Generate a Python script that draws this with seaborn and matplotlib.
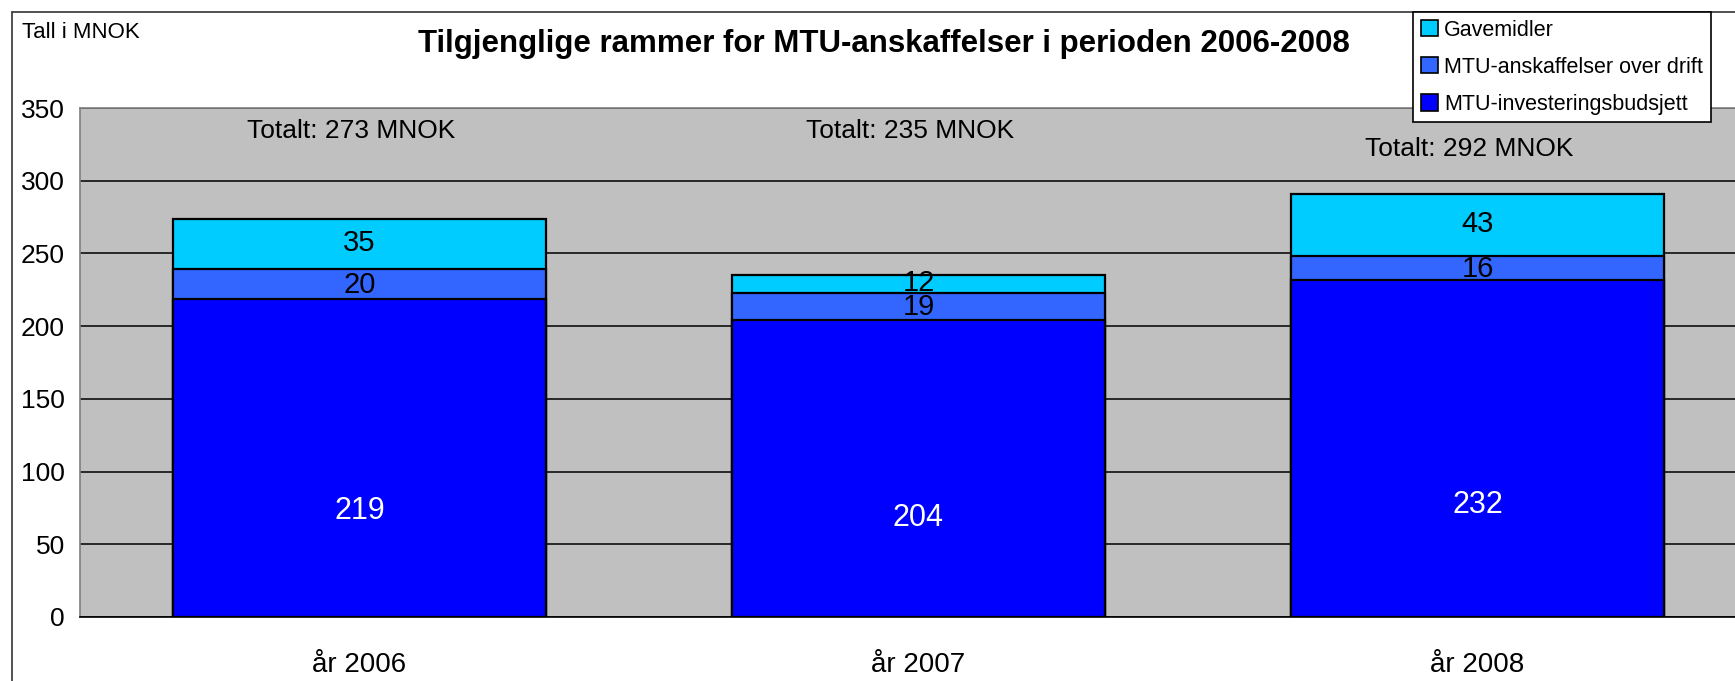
import pandas as pd
import matplotlib
matplotlib.use("Agg")
import matplotlib.pyplot as plt
import seaborn as sns
from matplotlib.patches import Patch
from matplotlib.lines import Line2D

# data
aar = ["år 2006", "år 2007", "år 2008"]
investering = [219, 204, 232]
drift = [20, 19, 16]
gave = [35, 12, 43]
totalt = [273, 235, 292]
serier = ["Gavemidler", "MTU-anskaffelser over drift", "MTU-investeringsbudsjett"]
farger = {"Gavemidler": "#00CCFF",
          "MTU-anskaffelser over drift": "#3366FF",
          "MTU-investeringsbudsjett": "#0000FF"}

sns.set_style("white")
plt.rcParams["font.family"] = ["Liberation Sans", "DejaVu Sans"]
plt.rcParams["text.color"] = "black"
plt.rcParams["xtick.color"] = "black"
plt.rcParams["ytick.color"] = "black"

df = pd.DataFrame({"aar": aar, "inv": investering, "drift": drift, "gave": gave})
df["inv_drift"] = df["inv"] + df["drift"]
df["sum"] = df["inv_drift"] + df["gave"]

W, H = 1735, 681
fig = plt.figure(figsize=(W / 100, H / 100), dpi=100)
ax = fig.add_axes([80 / W, 64 / H, 1677 / W, 509 / H])
ax.set_facecolor("#C0C0C0")

# stacked by overlap: tallest first
for col, s in [("sum", serier[0]), ("inv_drift", serier[1]), ("inv", serier[2])]:
    sns.barplot(data=df, x="aar", y=col, color=farger[s], width=0.667,
                edgecolor="black", linewidth=1.6, saturation=1, ax=ax, zorder=3)

ax.set_xlim(-0.5, 2.5)
ax.set_ylim(0, 350)
ax.set_yticks(range(0, 351, 50))
ax.yaxis.grid(True, color="black", linewidth=1.1, zorder=0)
ax.set_axisbelow(True)
ax.set_xlabel("")
ax.set_ylabel("")

ax.set_xticks([0, 1, 2])
ax.set_xticklabels(aar, fontsize=20)
ax.set_xticks([-0.5, 0.5, 1.5, 2.5], minor=True)
ax.tick_params(axis="x", which="major", length=0, pad=25, labelcolor="black")
ax.tick_params(axis="x", which="minor", length=10, width=1, color="#555555", direction="out")
ax.tick_params(axis="y", length=8, width=1, color="#555555", labelsize=19, pad=3, labelcolor="black")

for side in ["left", "bottom", "top"]:
    ax.spines[side].set_color("#808080")
    ax.spines[side].set_linewidth(1.2)
ax.spines["bottom"].set_color("black")
ax.spines["right"].set_visible(False)

# data labels
for i in range(len(aar)):
    inv = df.loc[i, "inv"]
    ax.text(i, inv / 3, str(inv), color="white", fontsize=22, ha="center", va="center", zorder=5)
    ax.text(i, inv + drift[i] / 2 - 0.5, str(drift[i]), color="black", fontsize=21,
            ha="center", va="center", zorder=5)
    ax.text(i, df.loc[i, "inv_drift"] + gave[i] / 2 + 1, str(gave[i]), color="black",
            fontsize=21, ha="center", va="center", zorder=5)

tot_y = [334, 334, 322]
for i, t in enumerate(totalt):
    ax.text(i - 0.015, tot_y[i], f"Totalt: {t} MNOK", fontsize=19, ha="center", va="center", zorder=5)

# title and unit
fig.text(884 / W, 1 - 44 / H, "Tilgjenglige rammer for MTU-anskaffelser i perioden 2006-2008",
         fontsize=22.5, fontweight="bold", ha="center", va="center")
fig.text(22 / W, 1 - 32 / H, "Tall i MNOK", fontsize=16, ha="left", va="center")

# figure border (left and top)
fig.add_artist(Line2D([12 / W, 12 / W], [0, 1 - 12 / H], color="#333333", linewidth=1.2))
fig.add_artist(Line2D([12 / W, 1], [1 - 12 / H, 1 - 12 / H], color="#333333", linewidth=1.2))

# legend
handles = [Patch(facecolor=farger[s], edgecolor="black", linewidth=1.2, label=s) for s in serier]
leg = fig.legend(handles=handles, loc="upper left", bbox_to_anchor=(1413 / W, 1 - 12 / H),
                 frameon=True, fancybox=False, edgecolor="black", facecolor="white",
                 framealpha=1, handlelength=0.8, handleheight=0.8, handletextpad=0.3,
                 labelspacing=0.75, borderpad=0.35, borderaxespad=0,
                 prop={"size": 15.5})
leg.get_frame().set_linewidth(1.2)

fig.savefig("out.png", dpi=100, facecolor="white")
